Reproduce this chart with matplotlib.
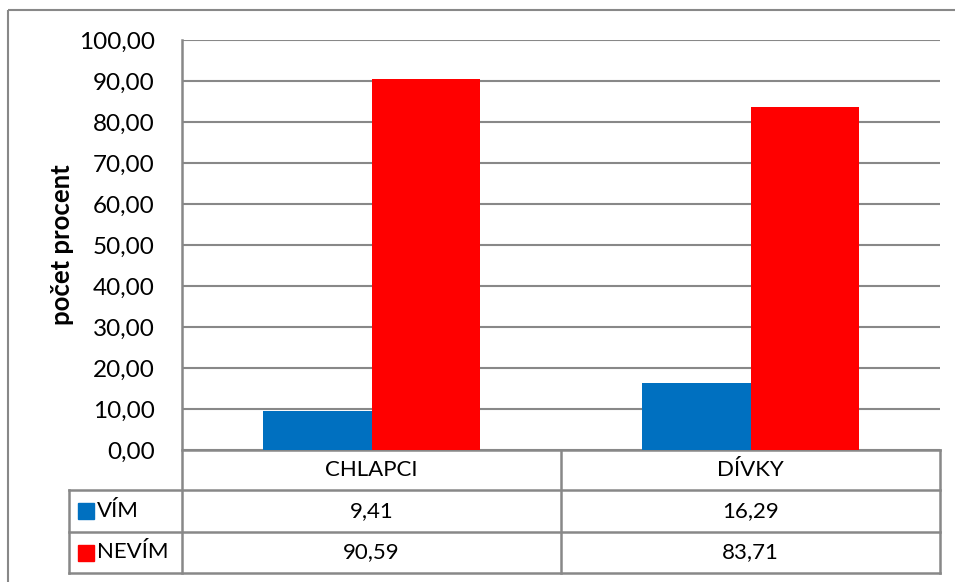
import matplotlib.pyplot as plt
from matplotlib.patches import Rectangle

categories = ["CHLAPCI", "DÍVKY"]
series = ["VÍM", "NEVÍM"]
vim = [9.41, 16.29]
nevim = [90.59, 83.71]
colors = ["#0070C0", "#FF0000"]
yticks = list(range(0, 101, 10))

plt.rcParams['font.family'] = ['Lato', 'DejaVu Sans']
W, H = 955, 582
fig = plt.figure(figsize=(W / 100, H / 100), dpi=100)

# overlay in pixel coordinates for the frame and data table
ov = fig.add_axes([0, 0, 1, 1])
ov.set_xlim(0, W)
ov.set_ylim(H, 0)
ov.axis("off")

# plot area
L, R, T, B = 182, 940, 40, 450
ax = fig.add_axes([L / W, (H - B) / H, (R - L) / W, (B - T) / H])
x = range(len(categories))
bw = 0.285
ax.bar([i - bw / 2 for i in x], vim, bw, color=colors[0], zorder=3)
ax.bar([i + bw / 2 for i in x], nevim, bw, color=colors[1], zorder=3)
ax.set_xlim(-0.5, len(categories) - 0.5)
ax.set_ylim(0, 100)
ax.set_yticks(yticks)
ax.set_yticklabels([f"{v:.2f}".replace(".", ",") for v in yticks], fontsize=17.5)
ax.tick_params(axis="y", length=0, pad=19.5)
ax.set_xticks([])
ax.grid(axis="y", color="#888888", linewidth=1.5, zorder=0)
for s in ["top", "right", "bottom", "left"]:
    ax.spines[s].set_visible(False)
ax.set_ylabel("počet procent", fontsize=18.5, fontweight="bold")
ax.yaxis.set_label_coords(-0.143, 0.5)
ax.patch.set_alpha(0)

gc = "#888888"
lw = 1.8
# outer chart border (right and bottom lie outside the image)
ov.add_patch(Rectangle((8, 10), 2000, 2000, fill=False, edgecolor=gc, lw=1.5))

# data table grid
r0, r1, r2, r3 = B, 490, 532, 573
tl = 69
mid = (L + R) / 2
ov.plot([L, L], [T, r3], color=gc, lw=lw)
ov.plot([mid, mid], [r0, r3], color=gc, lw=lw)
ov.plot([R, R], [r0, r3], color=gc, lw=lw)
ov.plot([tl, tl], [r1, r3], color=gc, lw=lw)
ov.plot([L, R], [r0, r0], color=gc, lw=lw)
for yy in (r1, r2, r3):
    ov.plot([tl, R], [yy, yy], color=gc, lw=lw)

cx = [(L + mid) / 2, (mid + R) / 2]
for c, name in zip(cx, categories):
    ov.text(c, (r0 + r1) / 2, name, ha="center", va="center", fontsize=16)
rows = [(r1, r2), (r2, r3)]
for (ya, yb), name, col, vals in zip(rows, series, colors, [vim, nevim]):
    yc = (ya + yb) / 2
    ov.add_patch(Rectangle((78, yc - 8), 16, 16, color=col))
    ov.text(97, yc, name, ha="left", va="center", fontsize=16)
    for c, v in zip(cx, vals):
        ov.text(c, yc, f"{v:.2f}".replace(".", ","), ha="center", va="center", fontsize=16)

fig.savefig("out.png", dpi=100)
